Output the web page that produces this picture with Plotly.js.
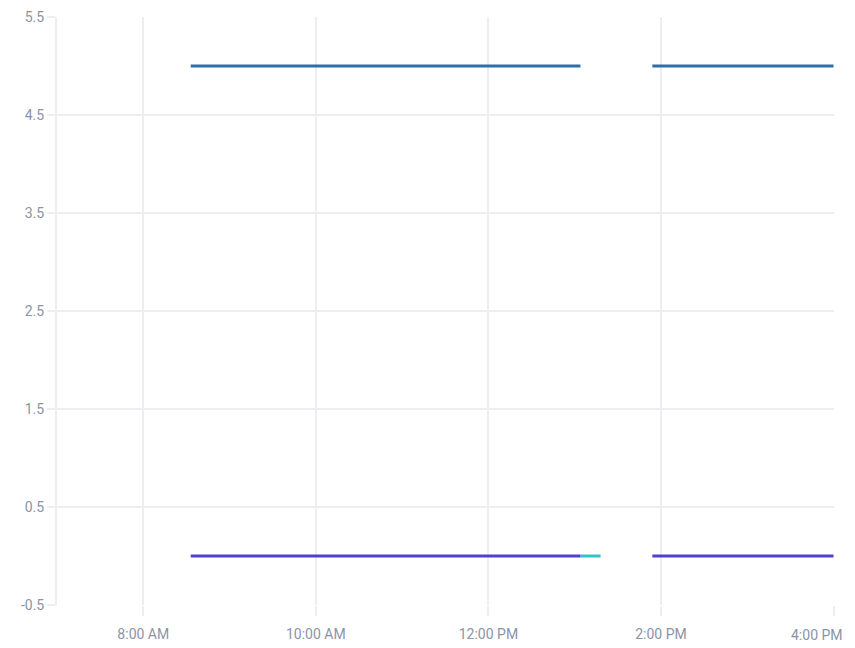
<!DOCTYPE html>
<html>
<head>
<meta charset="utf-8">
<script src="https://cdn.plot.ly/plotly-3.0.1.min.js"></script>
<style>html,body{margin:0;padding:0;background:#fff;}#chart{width:855px;height:648px;}</style>
</head>
<body>
<div id="chart"></div>
<script>
const blueTimes = ["2021-01-04 08:33", "2021-01-04 13:04", null, "2021-01-04 13:54", "2021-01-04 16:00"];
const blueValues = [5, 5, null, 5, 5];
const purpleTimes = ["2021-01-04 08:33", "2021-01-04 13:04", null, "2021-01-04 13:54", "2021-01-04 16:00"];
const purpleValues = [0, 0, null, 0, 0];
const cyanTimes = ["2021-01-04 13:04", "2021-01-04 13:18"];
const cyanValues = [0, 0];
const xTickVals = ["2021-01-04 08:00", "2021-01-04 10:00", "2021-01-04 12:00", "2021-01-04 14:00", "2021-01-04 16:00"];
const xTickText = ["8:00 AM", "10:00 AM", "12:00 PM", "2:00 PM", ""];
const lastTickLabel = "4:00 PM";
const yTickVals = [-0.5, 0.5, 1.5, 2.5, 3.5, 4.5, 5.5];
const yTickText = ["-0.5", "0.5", "1.5", "2.5", "3.5", "4.5", "5.5"];

const traces = [
  {x: cyanTimes, y: cyanValues, type: "scatter", mode: "lines", line: {color: "#2ec4c9", width: 3}, hoverinfo: "skip"},
  {x: purpleTimes, y: purpleValues, type: "scatter", mode: "lines", connectgaps: false, line: {color: "#5040d2", width: 3}},
  {x: blueTimes, y: blueValues, type: "scatter", mode: "lines", connectgaps: false, line: {color: "#2f6ea6", width: 3}}
];
const grid = "#eceef2";
const labelColor = "#8a94a6";
const layout = {
  width: 855, height: 648,
  margin: {l: 57, r: 21, t: 17, b: 43},
  showlegend: false,
  paper_bgcolor: "#fff", plot_bgcolor: "#fff",
  font: {family: "Roboto, sans-serif", size: 14, color: labelColor},
  xaxis: {
    type: "date",
    range: ["2021-01-04 07:00", "2021-01-04 16:00:20"],
    tickmode: "array", tickvals: xTickVals, ticktext: xTickText,
    ticklabelstandoff: 6,
    showgrid: true, gridcolor: grid, gridwidth: 2,
    ticks: "outside", ticklen: 10, tickcolor: grid, tickwidth: 2,
    showline: false, zeroline: false
  },
  yaxis: {
    range: [-0.5, 5.5],
    tickmode: "array", tickvals: yTickVals, ticktext: yTickText,
    showgrid: true, gridcolor: grid, gridwidth: 2,
    ticks: "outside", ticklen: 8, tickcolor: grid, tickwidth: 2,
    showline: true, linecolor: grid, linewidth: 2,
    zeroline: false
  },
  annotations: [{
    text: lastTickLabel, showarrow: false,
    xref: "x", x: xTickVals[4], xanchor: "right", xshift: 11,
    yref: "paper", y: 0, yanchor: "middle", yshift: -29.5,
    font: {family: "Roboto, sans-serif", size: 14, color: labelColor}
  }]
};
Plotly.newPlot("chart", traces, layout, {displayModeBar: false, staticPlot: true});
</script>
</body>
</html>
